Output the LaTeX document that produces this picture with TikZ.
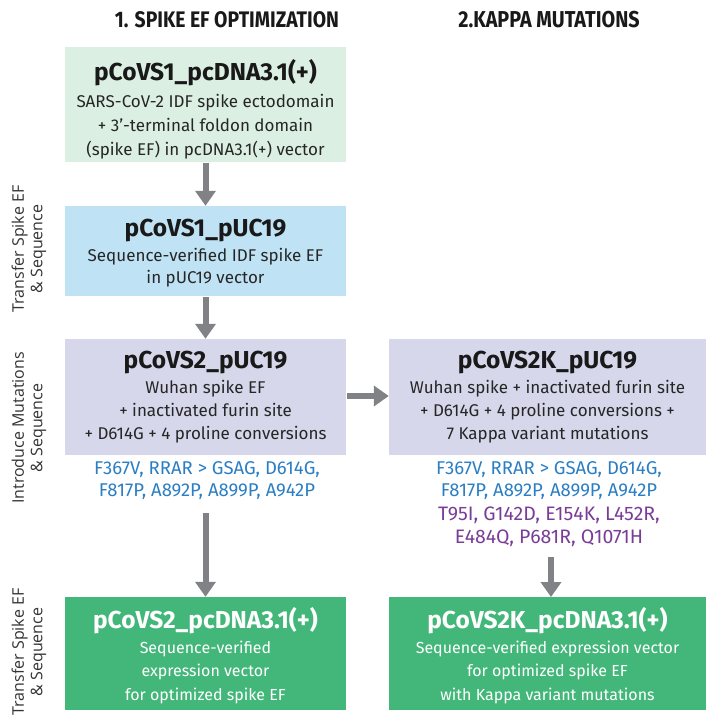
\documentclass[tikz,border=0pt]{standalone}
\usepackage{fontspec}
\setmainfont{Fira Sans}
\newfontfamily\condf[FakeStretch=0.86]{Fira Sans}
\newfontfamily\labf{Open Sans}
\usetikzlibrary{arrows.meta}
\definecolor{mint}{HTML}{DCEFE3}
\definecolor{skyb}{HTML}{BFE3F5}
\definecolor{lav}{HTML}{D6D7EA}
\definecolor{grn}{HTML}{43B77A}
\definecolor{mutblue}{HTML}{2B7EC3}
\definecolor{mutpur}{HTML}{7A3D97}
\definecolor{arrg}{HTML}{808285}
\begin{document}
\begin{tikzpicture}[x=1pt,y=-1pt,
  box/.style={draw=none,minimum height=#1,inner sep=0pt,anchor=center},
  ttl/.style={font=\fontsize{24.5}{26}\selectfont\bfseries,text=black!90},
  bod/.style={font=\fontsize{17}{23}\selectfont,align=center,text=black!85},
  gttl/.style={font=\fontsize{24.5}{26}\selectfont\bfseries,text=white},
  gbod/.style={font=\fontsize{16}{23.5}\selectfont,align=center,text=white},
  head/.style={font=\condf\fontsize{22.5}{24}\selectfont\bfseries,text=black!90},
  mut/.style={font=\fontsize{18.5}{22}\selectfont,align=center},
  side/.style={font=\labf\fontsize{16}{18.5}\selectfont,align=center,rotate=90,text=black!80},
  arr/.style={draw=arrg,line width=6pt,-{Triangle[width=20pt,length=15pt]}}
]
\useasboundingbox (0,0) rectangle (708,725);

\node[head] (h1) at (227,20) {1. SPIKE EF OPTIMIZATION};
\node[head,font=\condf\fontsize{23}{24}\selectfont\bfseries] (h2) at (549,20) {2.KAPPA MUTATIONS};

% left column boxes
\node[box=115pt,minimum width=281pt,fill=mint] (b1) at (205.5,104.5) {};
\node[ttl] (b1t) at (205.5,73) {pCoVS1\_pcDNA3.1(+)};
\node[bod,font=\fontsize{17}{24}\selectfont] (b1b) at (205.5,127) {SARS-CoV-2 IDF spike ectodomain\\+ 3'-terminal foldon domain\\(spike EF) in pcDNA3.1(+) vector};

\node[box=90pt,minimum width=281pt,fill=skyb] (b2) at (205.5,251) {};
\node[ttl] (b2t) at (205.5,231) {pCoVS1\_pUC19};
\node[bod,font=\fontsize{17}{22}\selectfont] (b2b) at (205.5,268) {Sequence-verified IDF spike EF\\in pUC19 vector};

\node[box=116pt,minimum width=281pt,fill=lav] (b3) at (205.5,397) {};
\node[ttl] (b3t) at (205.5,363) {pCoVS2\_pUC19};
\node[bod] (b3b) at (205.5,412) {Wuhan spike EF\\+ inactivated furin site\\+ D614G + 4 proline conversions};

\node[mut,text=mutblue] (m1) at (207,481) {F367V, RRAR > GSAG, D614G,\\F817P, A892P, A899P, A942P};
\coordinate (m1s) at (205.5,513);

\node[box=113pt,minimum width=281pt,fill=grn] (b4) at (205.5,653.5) {};
\node[gttl] (b4t) at (205.5,621) {pCoVS2\_pcDNA3.1(+)};
\node[gbod] (b4b) at (205.5,672) {Sequence-verified\\expression vector\\for optimized spike EF};

% right column
\node[box=116pt,minimum width=317pt,fill=lav] (r3) at (547.5,397) {};
\node[ttl] (r3t) at (547.5,363) {pCoVS2K\_pUC19};
\node[bod] (r3b) at (547.5,412) {Wuhan spike + inactivated furin site\\+ D614G + 4 proline conversions +\\7 Kappa variant mutations};

\node[mut,text=mutblue] (m2) at (549,481) {F367V, RRAR > GSAG, D614G,\\F817P, A892P, A899P, A942P};
\node[mut,text=mutpur,font=\fontsize{19.5}{22.5}\selectfont] (m3) at (549,527) {T95I, G142D, E154K, L452R,\\E484Q, P681R, Q1071H};
\coordinate (m3s) at (551,557);

\node[box=113pt,minimum width=317pt,fill=grn] (r4) at (547.5,653.5) {};
\node[gttl] (r4t) at (547.5,621) {pCoVS2K\_pcDNA3.1(+)};
\node[gbod] (r4b) at (547.5,672) {Sequence-verified expression vector\\for optimized spike EF\\with Kappa variant mutations};

% arrows
\draw[arr] (b1.south) ++(0,1) -- (b2.north);
\draw[arr] (b2.south) ++(0,1) -- (b3.north);
\draw[arr] (m1s) -- (b4.north);
\draw[arr] (m3s) -- (551,597);
\draw[arr] ([xshift=1pt,yshift=1pt]b3.east) -- ([yshift=1pt]r3.west);

% side labels
\node[side] (s1) at (29,249) {Transfer Spike EF\\\& Sequence};
\node[side] (s2) at (29,428) {Introduce Mutations\\\& Sequence};
\node[side] (s3) at (29,652) {Transfer Spike EF\\\& Sequence};
\end{tikzpicture}
\end{document}
